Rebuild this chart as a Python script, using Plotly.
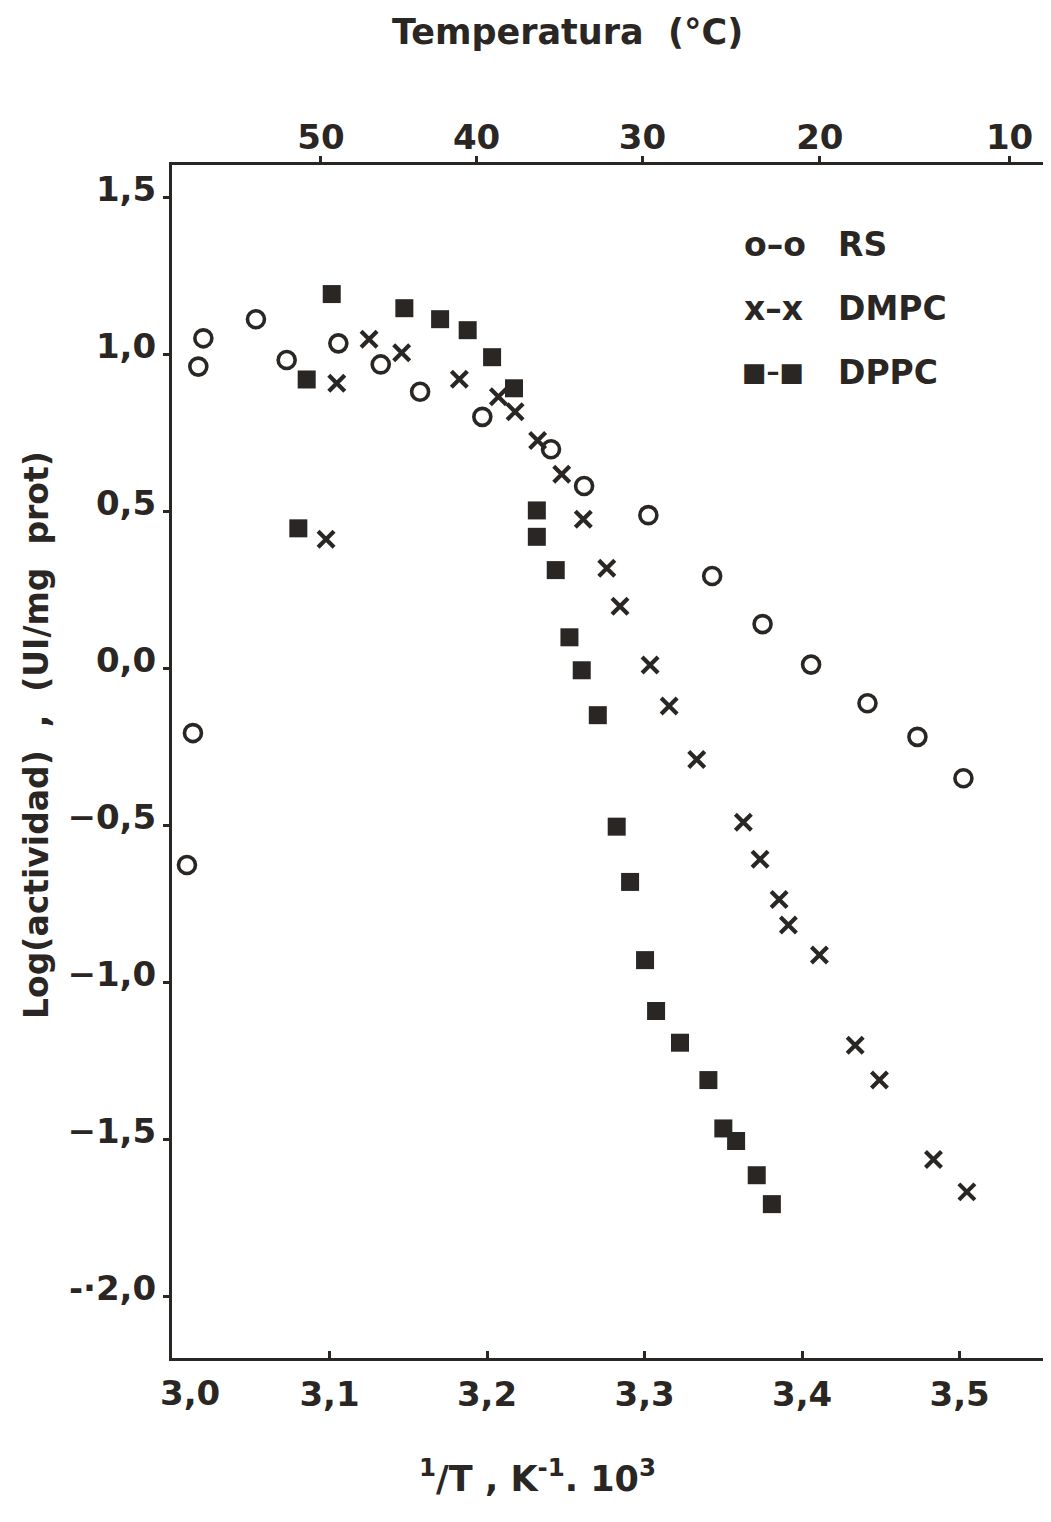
import plotly.graph_objects as go

# ---- data (1/T * 10^3 , log activity) ----
rs_x = [3.0199, 3.0167, 3.0533, 3.0728, 3.1056, 3.1325, 3.1575, 3.1970, 3.2406, 3.2616,
        3.3024, 3.3429, 3.3749, 3.4057, 3.4415, 3.4732, 3.5024, 3.0133, 3.0095]
rs_y = [1.050, 0.960, 1.111, 0.981, 1.034, 0.967, 0.880, 0.800, 0.697, 0.580,
        0.487, 0.293, 0.140, 0.011, -0.112, -0.219, -0.351, -0.207, -0.627]

dmpc_x = [3.1251, 3.1458, 3.1046, 3.1824, 3.2072, 3.2178, 3.2321, 3.2474, 3.2611, 3.0978,
          3.2760, 3.2844, 3.3035, 3.3156, 3.3331, 3.3627, 3.3733, 3.3854, 3.3913, 3.4110,
          3.4337, 3.4491, 3.4834, 3.5046]
dmpc_y = [1.047, 1.004, 0.907, 0.920, 0.864, 0.816, 0.725, 0.617, 0.474, 0.410,
          0.318, 0.197, 0.010, -0.121, -0.291, -0.491, -0.609, -0.737, -0.818, -0.914,
          -1.201, -1.312, -1.565, -1.668]

dppc_x = [3.1014, 3.1475, 3.1702, 3.1877, 3.0855, 3.2032, 3.2171, 3.0802, 3.2316, 3.2316,
          3.2436, 3.2523, 3.2601, 3.2703, 3.2823, 3.2908, 3.3003, 3.3073, 3.3225, 3.3405,
          3.3500, 3.3581, 3.3712, 3.3808]
dppc_y = [1.191, 1.146, 1.111, 1.076, 0.919, 0.990, 0.891, 0.445, 0.502, 0.418,
          0.312, 0.098, -0.007, -0.150, -0.505, -0.681, -0.930, -1.092, -1.193, -1.312,
          -1.466, -1.506, -1.615, -1.707]

x_tickvals = [3.1, 3.2, 3.3, 3.4, 3.5]
x_ticktext = ["3,1", "3,2", "3,3", "3,4", "3,5"]
y_tickvals = [1.5, 1.0, 0.5, 0.0, -0.5, -1.0, -1.5, -2.0]
y_ticktext = ["1,5", "1,0", "0,5", "0,0", "\u22120,5", "\u22121,0", "\u22121,5", "-\u00b72,0"]
temp_labels = [50, 40, 30, 20, 10]
temp_tickvals = [1000.0 / (t + 273.15) for t in temp_labels]

INK = "#2a2623"
FONT = "DejaVu Sans"

fig = go.Figure()
fig.add_trace(go.Scatter(x=rs_x, y=rs_y, mode="markers", name="RS",
                         marker=dict(symbol="circle-open", size=17, color=INK,
                                     line=dict(width=3.6, color=INK))))
fig.add_trace(go.Scatter(x=dmpc_x, y=dmpc_y, mode="markers", name="DMPC",
                         marker=dict(symbol="x-thin-open", size=16, color=INK,
                                     line=dict(width=4.2, color=INK))))
fig.add_trace(go.Scatter(x=dppc_x, y=dppc_y, mode="markers", name="DPPC",
                         marker=dict(symbol="square", size=18, color=INK,
                                     line=dict(width=0))))
# helper trace to carry the top (temperature) axis
fig.add_trace(go.Scatter(x=temp_tickvals, y=[None] * len(temp_tickvals), xaxis="x2",
                         mode="markers", showlegend=False, hoverinfo="skip"))

xrange = [3.0, 3.558]
axis_font = dict(family=FONT, size=34, color=INK, weight="bold")

# the page body has an 8px margin, so the figure is sized/offset to compensate
fig.update_layout(
    width=1043, height=1514,
    margin=dict(l=164, r=0, t=157, b=164),
    paper_bgcolor="white", plot_bgcolor="white",
    showlegend=False,
    xaxis=dict(range=xrange, tickvals=x_tickvals, ticktext=x_ticktext,
               showline=True, linecolor=INK, linewidth=3, showgrid=False, zeroline=False,
               ticks="inside", ticklen=7, tickwidth=3, tickcolor=INK,
               tickfont=axis_font, ticklabelstandoff=4),
    xaxis2=dict(range=xrange, overlaying="x", side="top", matches="x",
                tickvals=temp_tickvals, ticktext=[str(t) for t in temp_labels],
                showline=True, linecolor=INK, linewidth=3, showgrid=False, zeroline=False,
                ticks="outside", ticklen=6, tickwidth=3, tickcolor=INK,
                tickfont=axis_font, ticklabelstandoff=-7),
    yaxis=dict(range=[-2.197, 1.602], tickvals=y_tickvals, ticktext=y_ticktext,
               showline=True, linecolor=INK, linewidth=3, showgrid=False, zeroline=False,
               ticks="outside", ticklen=6, tickwidth=3, tickcolor=INK,
               tickfont=axis_font, ticklabelstandoff=0, ticklabelshift=-8),
)

def px_x(p):
    return (p - 172) / 879.0

def px_y(p):
    return (1358 - p) / 1193.0

big = dict(family=FONT, size=33, color=INK, weight="bold")
ann = [
    dict(text="Temperatura  (\u00b0C)", x=px_x(567), y=px_y(32),
         font=dict(family=FONT, size=35, color=INK, weight="bold")),
    dict(text="3,0", x=px_x(190), y=px_y(1393), font=axis_font),
    dict(text="Log(actividad)  ,  (UI/mg  prot)", x=px_x(36), y=px_y(735), textangle=-90,
         font=dict(family=FONT, size=33, color=INK, weight="bold")),
    dict(text="<sup>1</sup>/T , K<sup>-1</sup>. 10<sup>3</sup>", x=px_x(537), y=px_y(1476),
         font=dict(family=FONT, size=35, color=INK, weight="bold")),
    dict(text="o\u2013o", x=px_x(742), y=px_y(244), xanchor="left", font=big),
    dict(text="RS", x=px_x(836), y=px_y(244), xanchor="left", font=big),
    dict(text="x\u2013x", x=px_x(742), y=px_y(309), xanchor="left", font=big),
    dict(text="DMPC", x=px_x(836), y=px_y(309), xanchor="left", font=big),
    dict(text="\u25a0\u2013\u25a0", x=px_x(740), y=px_y(372), xanchor="left",
         font=dict(family=FONT, size=26, color=INK, weight="bold")),
    dict(text="DPPC", x=px_x(836), y=px_y(372), xanchor="left", font=big),
]
for a in ann:
    a.setdefault("xanchor", "center")
    a.update(xref="paper", yref="paper", showarrow=False, yanchor="middle")
fig.update_layout(annotations=ann)

fig.write_html("out.html")
